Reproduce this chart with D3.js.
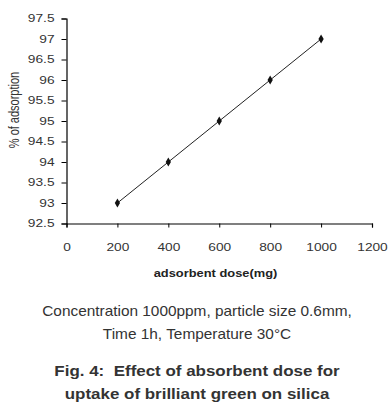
<!DOCTYPE html>
<html>
<head>
<meta charset="utf-8">
<script src="https://cdn.jsdelivr.net/npm/d3@7"></script>
<style>
  body { margin: 0; background: #fff; }
  svg { font-family: "Liberation Sans", Arial, sans-serif; }
</style>
</head>
<body>
<div id="chart"></div>
<script>
// data
const doses = [200, 400, 600, 800, 1000];
const adsorption = [93, 94, 95, 96, 97];
const xTicks = [0, 200, 400, 600, 800, 1000, 1200];
const yTicks = [92.5, 93, 93.5, 94, 94.5, 95, 95.5, 96, 96.5, 97, 97.5];
const captionLines = ["Concentration 1000ppm, particle size 0.6mm,", "Time 1h, Temperature 30\u00B0C"];
const figLines = ["Fig. 4:  Effect of absorbent dose for", "uptake of brilliant green on silica"];

const W = 392, H = 416;
const SX = 1.27; // the source figure's text is stretched sideways

const svg = d3.select("#chart").append("svg")
    .attr("width", W).attr("height", H);

const x = d3.scaleLinear().domain([0, 1200]).range([66.5, 372]);
const y = d3.scaleLinear().domain([92.5, 97.5]).range([223.5, 18.5]);

// axes
const xAxis = svg.append("g")
    .attr("transform", `translate(0,${y(92.5)})`)
    .call(d3.axisBottom(x).tickValues(xTicks).tickSize(4).tickFormat(d3.format("d")));
const yAxis = svg.append("g")
    .attr("transform", `translate(${x(0)},0)`)
    .call(d3.axisLeft(y).tickValues(yTicks).tickSize(5).tickFormat(d => d));

[xAxis, yAxis].forEach(a => {
    a.select(".domain").attr("stroke", "#000").attr("stroke-width", 1.2);
    a.selectAll(".tick line").attr("stroke", "#000");
    a.selectAll(".tick text").attr("fill", "#333").attr("font-size", "10.8px")
        .attr("font-family", "\"Liberation Sans\", Arial, sans-serif");
});
xAxis.selectAll(".tick text").attr("y", 28).attr("dy", 0)
    .attr("transform", `scale(${SX},1)`);
yAxis.selectAll(".tick text").attr("x", -12 / SX)
    .attr("transform", `scale(${SX},1)`);

// series line + markers
const pts = doses.map((d, i) => [d, adsorption[i]]);
svg.append("path")
    .datum(pts)
    .attr("fill", "none")
    .attr("stroke", "#222")
    .attr("stroke-width", 1)
    .attr("d", d3.line().x(d => x(d[0])).y(d => y(d[1])));

svg.append("g").selectAll("path")
    .data(pts)
    .join("path")
    .attr("transform", d => `translate(${x(d[0])},${y(d[1])})`)
    .attr("d", d3.symbol(d3.symbolDiamond, 24))
    .attr("fill", "#111");

// axis titles
svg.append("text")
    .attr("transform", `translate(215.5,277) scale(1.17,1)`)
    .attr("text-anchor", "middle")
    .attr("font-size", "11px").attr("font-weight", "bold").attr("fill", "#222")
    .text("adsorbent dose(mg)");

svg.append("text")
    .attr("transform", `translate(19,110) rotate(-90) scale(1,${SX})`)
    .attr("text-anchor", "middle")
    .attr("font-size", "11px").attr("fill", "#333")
    .text("% of adsorption");

// captions
svg.append("g").selectAll("text")
    .data(captionLines)
    .join("text")
    .attr("transform", (d, i) => `translate(${W / 2 + 1},${315.5 + i * 23}) scale(1.1,1)`)
    .attr("text-anchor", "middle")
    .attr("font-size", "14px").attr("fill", "#333")
    .text(d => d);

svg.append("g").selectAll("text")
    .data(figLines)
    .join("text")
    .attr("transform", (d, i) => `translate(${W / 2 + 1},${376 + i * 23}) scale(1.13,1)`)
    .attr("text-anchor", "middle")
    .attr("font-size", "15px").attr("font-weight", "bold").attr("fill", "#333")
    .style("white-space", "pre")
    .text(d => d);
</script>
</body>
</html>
